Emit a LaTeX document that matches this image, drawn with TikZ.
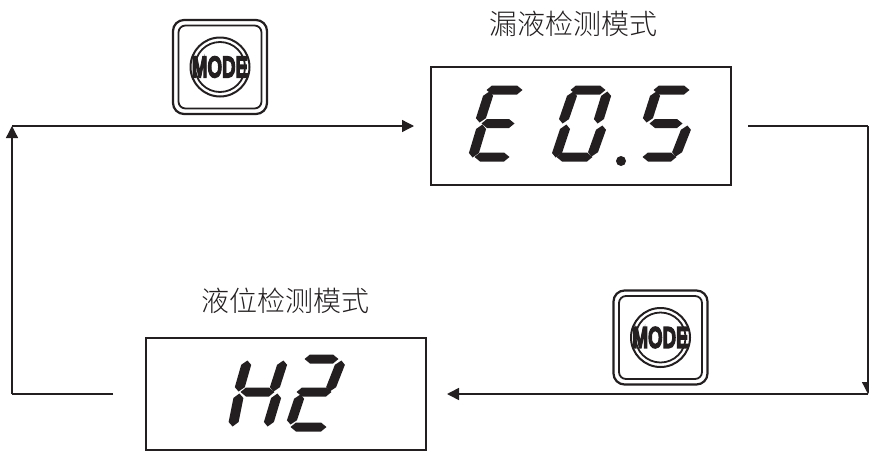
\documentclass[tikz,border=0pt]{standalone}
\usepackage{fontspec}
\usetikzlibrary{calc,arrows.meta}
\newfontfamily\cjk{Noto Sans CJK SC Light}
\newfontfamily\modefont[FakeBold=5]{Liberation Sans Bold}
\definecolor{ink}{HTML}{231F20}
\tikzset{
  x=1pt,y=-1pt,
  captxt/.style={font=\cjk\fontsize{28}{28}\selectfont,text=ink,inner sep=0pt},
  conn/.style={draw=ink,line width=1.3pt},
  headtip/.style={-{Triangle[length=12pt,width=12pt]}},
  modetext/.style={text=ink,inner sep=0pt,font=\modefont\fontsize{34}{34}\selectfont},
  pics/modebtn/.style={code={
    \draw[ink,line width=2.2pt,rounded corners=11pt] (-47,-47) rectangle (47,47);
    \draw[ink,line width=1.8pt,rounded corners=7pt] (-41.5,-41.5) rectangle (41.5,41.5);
    \draw[ink,line width=2pt] (0,0) circle (29.5);
    \draw[ink,line width=1.8pt] (0,0) circle (25);
    \node[modetext] (-label) at (0,0) {\scalebox{0.55}[0.88]{MODE}};
  }}
}
\newcommand{\hsg}[3]{\fill[ink] (#1-1.5,#3) -- (#1+4,#3-4.5) -- (#2-4,#3-4.5) -- (#2+1.5,#3) -- (#2-4,#3+4.5) -- (#1+4,#3+4.5) -- cycle;}
\newcommand{\vsg}[4]{\fill[ink] (#1+.4,#2-1.5) -- ($(#1,#2)!.1!(#3,#4)+(5,0)$) -- ($(#3,#4)!.1!(#1,#2)+(5,0)$) -- (#3-.4,#4+1.5) -- ($(#3,#4)!.1!(#1,#2)+(-5,0)$) -- ($(#1,#2)!.1!(#3,#4)+(-5,0)$) -- cycle;}
\begin{document}
\begin{tikzpicture}
\useasboundingbox (0,0) rectangle (869,450);
% display boxes
\node[draw=ink,line width=1.2pt,inner sep=0pt,minimum width=300pt,minimum height=118pt] (eb) at (581,126) {};
\node[draw=ink,line width=1.2pt,inner sep=0pt,minimum width=280pt,minimum height=112pt] (hb) at (286,394) {};
% captions
\node[captxt] (ecap) at (573.5,24) {漏液检测模式};
\node[captxt] (hcap) at (285.5,301) {液位检测模式};
% connector ends
\coordinate (tl) at (12,126);
\coordinate (bl) at (12,394);
\coordinate (tr) at (868,126);
\coordinate (br) at (868,394);
\coordinate (ein) at (414,126);
\coordinate (eout) at (748,126);
\coordinate (hin) at (447,394);
\coordinate (hout) at (113,394);
\draw[conn] (eout) -- (tr);
\draw[conn,headtip] (tr) -- (br);
\draw[conn,headtip,line width=1.6pt] (br) -- (hin);
\draw[conn] (hout) -- (bl);
\draw[conn,headtip] (bl) -- (tl);
\draw[conn,headtip] (tl) -- (ein);
% buttons
\pic (m1) at (220,67) {modebtn};
\pic (m2) at (660.5,337.5) {modebtn};
% E
\hsg{488}{521}{90}\hsg{483}{513}{123.5}\hsg{476}{508}{157}
\vsg{489}{93}{480}{121}\vsg{482}{126}{473}{156}
% 0
\hsg{572}{604}{90}\hsg{558}{591}{157}
\vsg{573}{93}{563}{122}\vsg{607}{93}{598}{122}\vsg{566}{126}{556}{156}\vsg{602}{127}{592}{155}
% dot
\fill[ink] (621,161) circle (5);
% S
\hsg{655}{688}{90}\hsg{651}{681}{123.5}\hsg{644}{675}{157}
\vsg{656}{93}{647}{121}\vsg{687}{127}{676}{155}
% H
\vsg{247}{362}{239}{390}\vsg{283}{362}{274}{390}\hsg{242}{273}{392}\vsg{239}{395}{233}{425}\vsg{277}{395}{268}{425}
% 2
\hsg{306}{337}{359}\vsg{341}{362}{330}{390}\hsg{298}{330}{392}\vsg{300}{396}{291}{423}\hsg{292}{325}{427}
\end{tikzpicture}
\end{document}
